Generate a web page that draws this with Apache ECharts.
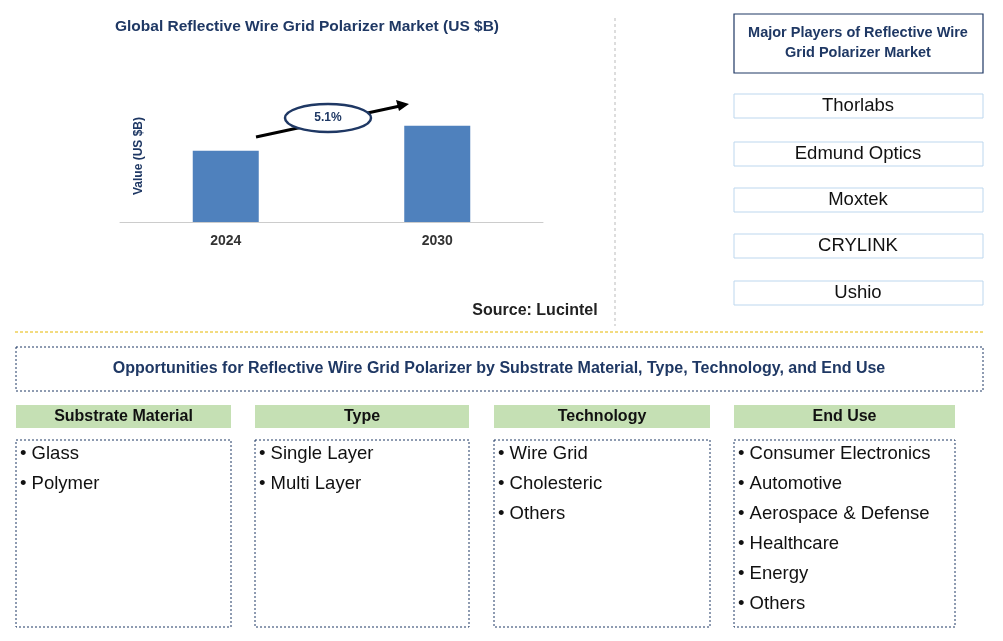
<!DOCTYPE html>
<html><head><meta charset="utf-8">
<script src="https://cdn.jsdelivr.net/npm/echarts@6/dist/echarts.min.js"></script>
<style>html,body{margin:0;padding:0;background:#fff}#c{width:1003px;height:641px}</style>
</head><body><div id="c"></div>
<script>
const years = ['2024', '2030'];
const values = [1.0, 1.35];
const cagr = '5.1%';
const players = ['Thorlabs', 'Edmund Optics', 'Moxtek', 'CRYLINK', 'Ushio'];
const segHeaders = ['Substrate Material', 'Type', 'Technology', 'End Use'];
const segItems = [
  ['Glass', 'Polymer'],
  ['Single Layer', 'Multi Layer'],
  ['Wire Grid', 'Cholesteric', 'Others'],
  ['Consumer Electronics', 'Automotive', 'Aerospace & Defense', 'Healthcare', 'Energy', 'Others']
];
const navy = '#1F3864';
const F = 'Arial, "Liberation Sans", sans-serif';
const chart = echarts.init(document.getElementById('c'));
const g = [];
g.push({type:'text', style:{text:'Global Reflective Wire Grid Polarizer Market (US $B)', x:307, y:27, align:'center', verticalAlign:'middle', font:'bold 15.5px '+F, fill:navy}});
g.push({type:'text', style:{text:'Value (US $B)', x:0, y:0, align:'center', verticalAlign:'middle', font:'bold 12px '+F, fill:navy}, x:139, y:156, rotation:Math.PI/2});
g.push({type:'text', style:{text:'Source: Lucintel', x:535, y:311, align:'center', verticalAlign:'middle', font:'bold 16px '+F, fill:'#222'}});
g.push({type:'line', shape:{x1:256, y1:137, x2:400, y2:106}, style:{stroke:'#000', lineWidth:3}});
g.push({type:'polygon', shape:{points:[[409,104],[396,100],[399,111]]}, style:{fill:'#000'}});
g.push({type:'ellipse', shape:{cx:328, cy:118, rx:43, ry:14}, style:{fill:'#fff', stroke:navy, lineWidth:2.5}});
g.push({type:'text', style:{text:cagr, x:328, y:118, align:'center', verticalAlign:'middle', font:'bold 12px '+F, fill:navy}});
g.push({type:'line', shape:{x1:615, y1:18, x2:615, y2:326}, style:{stroke:'#bbb', lineWidth:1, lineDash:[3,3]}});
g.push({type:'line', shape:{x1:15, y1:332, x2:985, y2:332}, style:{stroke:'#E6B800', lineWidth:1, lineDash:[3,2]}});
g.push({type:'rect', shape:{x:734, y:14, width:249, height:59}, style:{fill:'#fff', stroke:navy, lineWidth:1.2}});
g.push({type:'text', style:{text:'Major Players of Reflective Wire\nGrid Polarizer Market', x:858, y:43, align:'center', verticalAlign:'middle', font:'bold 14.5px '+F, fill:navy, lineHeight:20}});
const py = [94, 142, 188, 234, 281];
players.forEach((p,i)=>{
  g.push({type:'rect', shape:{x:734, y:py[i], width:249, height:24}, style:{fill:'#fff', stroke:'#BDD7EE', lineWidth:1}});
  g.push({type:'text', style:{text:p, x:858, y:py[i]+12, align:'center', verticalAlign:'middle', font:'18.5px '+F, fill:'#111'}});
});
g.push({type:'rect', shape:{x:16, y:347, width:967, height:44}, style:{fill:'#fff', stroke:navy, lineWidth:1, lineDash:[2,2]}});
g.push({type:'text', style:{text:'Opportunities for Reflective Wire Grid Polarizer by Substrate Material, Type, Technology, and End Use', x:499, y:369, align:'center', verticalAlign:'middle', font:'bold 16px '+F, fill:navy}});
const sx = [[16,215],[255,214],[494,216],[734,221]];
segHeaders.forEach((h,i)=>{
  const [x,w] = sx[i];
  g.push({type:'rect', shape:{x:x, y:405, width:w, height:23}, style:{fill:'#C5E0B4'}});
  g.push({type:'text', style:{text:h, x:x+w/2, y:417, align:'center', verticalAlign:'middle', font:'bold 16px '+F, fill:'#111'}});
  g.push({type:'rect', shape:{x:x, y:440, width:w, height:187}, style:{fill:'none', stroke:navy, lineWidth:1, lineDash:[2,2]}});
  segItems[i].forEach((t,j)=>{
    g.push({type:'text', style:{text:'• '+t, x:x+4, y:454+30*j, align:'left', verticalAlign:'middle', font:'18.5px '+F, fill:'#111'}});
  });
});
chart.setOption({
  animation:false,
  grid:{left:120, right:460, top:90, bottom:419},
  xAxis:{type:'category', data:years, axisTick:{show:false}, axisLine:{lineStyle:{color:'#ccc'}},
    axisLabel:{fontFamily:F, fontWeight:'bold', fontSize:14, color:'#333', margin:12}},
  yAxis:{type:'value', min:0, max:1.85, show:false},
  series:[{type:'bar', data:values, barWidth:66, itemStyle:{color:'#4F81BD'}}],
  graphic:g
});
</script></body></html>
